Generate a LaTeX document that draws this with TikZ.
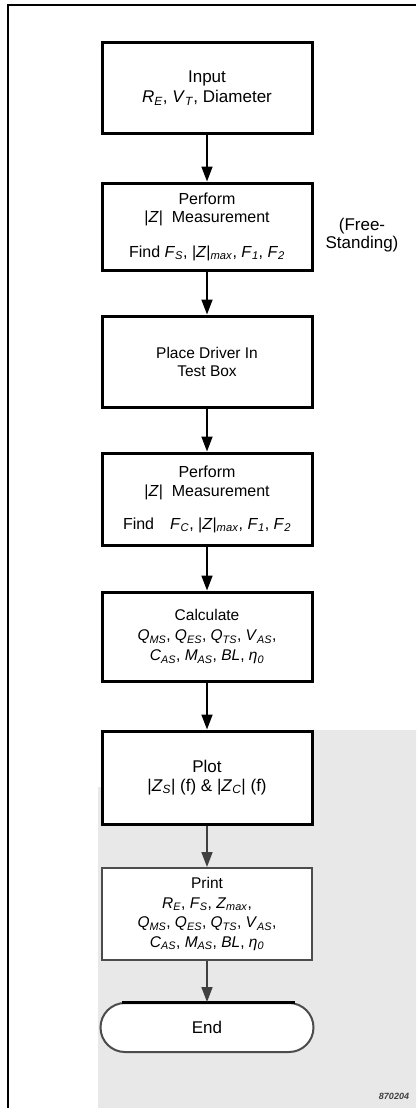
\documentclass[tikz,border=0pt]{standalone}
\usepackage{fontspec}
\setmainfont{Liberation Sans}
\usetikzlibrary{arrows.meta,shapes.misc}
\newcommand{\vv}[2]{\textit{#1}\textsubscript{\textit{#2}}}
\newcommand{\absZ}{\textbar\textit{Z}\textbar}
\begin{document}
\begin{tikzpicture}[x=1pt,y=-1pt,
  box/.style={draw, line width=3pt, fill=white, minimum width=210pt, inner sep=0pt, align=center},
  pbox/.style={box, draw=black!70, line width=2pt},
  term/.style={rounded rectangle, draw=black!70, line width=2pt, fill=white, minimum width=213pt, minimum height=49pt, inner sep=0pt},
  arr/.style={line width=1.7pt, -{Triangle[width=11pt,length=15pt]}},
  garr/.style={arr, draw=black!75, fill=black!75},
  frame/.style={line width=2pt}]
\useasboundingbox (0,0) rectangle (416,1108);
% scanned grey background
\fill[black!9] (98,787) -- (104,787) -- (104,730) -- (416,730) -- (416,1108) -- (98,1108) -- cycle;
% outer frame
\draw[frame] (8,1108) -- (8,5) -- (416,5);
% boxes
\node[box, minimum height=90pt, font=\fontsize{17}{20}\selectfont] (b1) at (207,88)
  {Input\\ \vv{R}{E}, \vv{V}{T}, Diameter};
\node[box, minimum height=87pt, font=\fontsize{16}{18}\selectfont] (b2) at (207,226.5)
  {Perform\\ \absZ\ \ Measurement\\[17pt] Find \vv{F}{S}, \absZ\textsubscript{\textit{max}}, \vv{F}{1}, \vv{F}{2}};
\node[box, minimum height=91pt, font=\fontsize{15.5}{18}\selectfont] (b3) at (207,361.5)
  {Place Driver In\\ Test Box};
\node[box, minimum height=92pt, font=\fontsize{16}{19}\selectfont] (b4) at (207,499)
  {Perform\\ \absZ\ \ Measurement\\[14pt] Find\quad \vv{F}{C}, \absZ\textsubscript{\textit{max}}, \vv{F}{1}, \vv{F}{2}};
\node[box, minimum height=89pt, font=\fontsize{15.5}{20}\selectfont] (b5) at (207,636.5)
  {Calculate\\ \vv{Q}{MS}, \vv{Q}{ES}, \vv{Q}{TS}, \vv{V}{AS},\\ \vv{C}{AS}, \vv{M}{AS}, \textit{BL}, \vv{η}{0}};
\node[box, minimum height=93pt, font=\fontsize{17}{19}\selectfont] (b6) at (207,777.5)
  {Plot\\ \textbar\vv{Z}{S}\textbar\ (f) \& \textbar\vv{Z}{C}\textbar\ (f)};
\node[pbox, minimum height=92pt, font=\fontsize{15.5}{19.5}\selectfont] (b7) at (207,914)
  {Print\\ \vv{R}{E}, \vv{F}{S}, \vv{Z}{max},\\ \vv{Q}{MS}, \vv{Q}{ES}, \vv{Q}{TS}, \vv{V}{AS},\\ \vv{C}{AS}, \vv{M}{AS}, \textit{BL}, \vv{η}{0}};
\node[term, font=\fontsize{17}{20}\selectfont] (end) at (207,1027.5) {End};
\draw[line width=3pt] ([xshift=-85pt]end.north) -- ([xshift=88pt]end.north);
% side label
\node[align=center, font=\fontsize{17}{18}\selectfont] (fs) at (362,235) {(Free-\\Standing)};
\node[font=\fontsize{9}{10}\selectfont\bfseries\itshape, text=black!75] (fig) at (394,1096) {870204};
% connectors
\draw[arr] (b1.south) -- (b2.north);
\draw[arr] (b2.south) -- (b3.north);
\draw[arr] (b3.south) -- (b4.north);
\draw[arr] (b4.south) -- (b5.north);
\draw[arr] (b5.south) -- (b6.north);
\draw[garr] (b6.south) -- (b7.north);
\draw[garr] (b7.south) -- (end.north);
\end{tikzpicture}
\end{document}
